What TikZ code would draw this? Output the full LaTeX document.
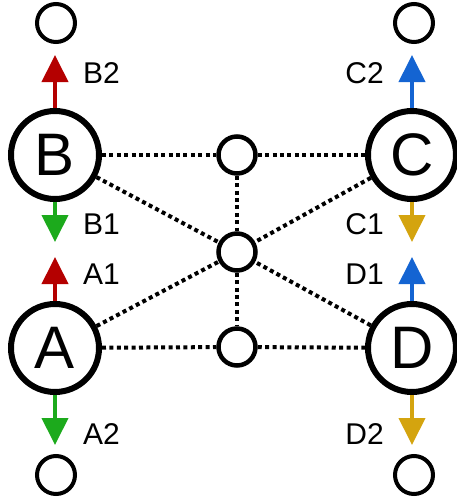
\documentclass[tikz,border=0pt]{standalone}
\usepackage{fontspec}
\setmainfont{Liberation Sans}
\usetikzlibrary{arrows.meta}
\definecolor{outred}{HTML}{B40000}
\definecolor{outgreen}{HTML}{1CAA1C}
\definecolor{outblue}{HTML}{1464D2}
\definecolor{outgold}{HTML}{D4A40F}
\tikzset{
  bigport/.style={circle, draw, line width=6pt, minimum size=88pt, inner sep=0pt,
    font=\fontsize{60}{60}\selectfont},
  endport/.style={circle, draw, line width=4pt, minimum size=38pt, inner sep=0pt},
  hub/.style={circle, draw, line width=4.5pt, minimum size=37pt, inner sep=0pt},
  link/.style={line width=4pt, dash pattern=on 4pt off 3.4pt},
  flow/.style={line width=4pt, -{Triangle[width=26pt,length=27pt]}},
  tag/.style={font=\fontsize{30}{30}\selectfont, inner sep=0pt},
}
\begin{document}
\begin{tikzpicture}[x=1pt, y=-1pt]
  \useasboundingbox (0,0) rectangle (457,501);

  % main ports
  \node[bigport] (B) at (55,155) {B};
  \node[bigport] (A) at (55,348) {A};
  \node[bigport] (C) at (412,155) {C};
  \node[bigport] (D) at (412,348) {D};

  % terminal circles
  \node[endport] (tB) at (56,23) {};
  \node[endport] (tA) at (56,475) {};
  \node[endport] (tC) at (414,23) {};
  \node[endport] (tD) at (414,475) {};

  % central hubs
  \node[hub] (h1) at (237,155) {};
  \node[hub] (h2) at (237,252) {};
  \node[hub] (h3) at (237,347) {};

  % dotted links
  \draw[link] (B) -- (h1);
  \draw[link] (h1) -- (C);
  \draw[link] (A) -- (h3);
  \draw[link] (h3) -- (D);
  \draw[link] (B) -- (h2);
  \draw[link] (C) -- (h2);
  \draw[link] (A) -- (h2);
  \draw[link] (D) -- (h2);
  \draw[link] (h1) -- (h2);
  \draw[link] (h2) -- (h3);

  % arrow tips
  \coordinate (pB2) at (55,55);
  \coordinate (pB1) at (55,242);
  \coordinate (pA1) at (55,257);
  \coordinate (pA2) at (55,445);
  \coordinate (pC2) at (412,55);
  \coordinate (pC1) at (412,242);
  \coordinate (pD1) at (412,257);
  \coordinate (pD2) at (412,445);

  \draw[flow, outred]   (B.north) -- (pB2);
  \draw[flow, outgreen] (B.south) -- (pB1);
  \draw[flow, outred]   (A.north) -- (pA1);
  \draw[flow, outgreen] (A.south) -- (pA2);
  \draw[flow, outblue]  (C.north) -- (pC2);
  \draw[flow, outgold]  (C.south) -- (pC1);
  \draw[flow, outblue]  (D.north) -- (pD1);
  \draw[flow, outgold]  (D.south) -- (pD2);

  % labels
  \node[tag, anchor=west] (lB2) at (83,73) {B2};
  \node[tag, anchor=west] (lB1) at (83,224) {B1};
  \node[tag, anchor=west] (lA1) at (83,274) {A1};
  \node[tag, anchor=west] (lA2) at (83,434) {A2};
  \node[tag, anchor=east] (lC2) at (384,73) {C2};
  \node[tag, anchor=east] (lC1) at (384,224) {C1};
  \node[tag, anchor=east] (lD1) at (384,274) {D1};
  \node[tag, anchor=east] (lD2) at (384,434) {D2};
\end{tikzpicture}
\end{document}
